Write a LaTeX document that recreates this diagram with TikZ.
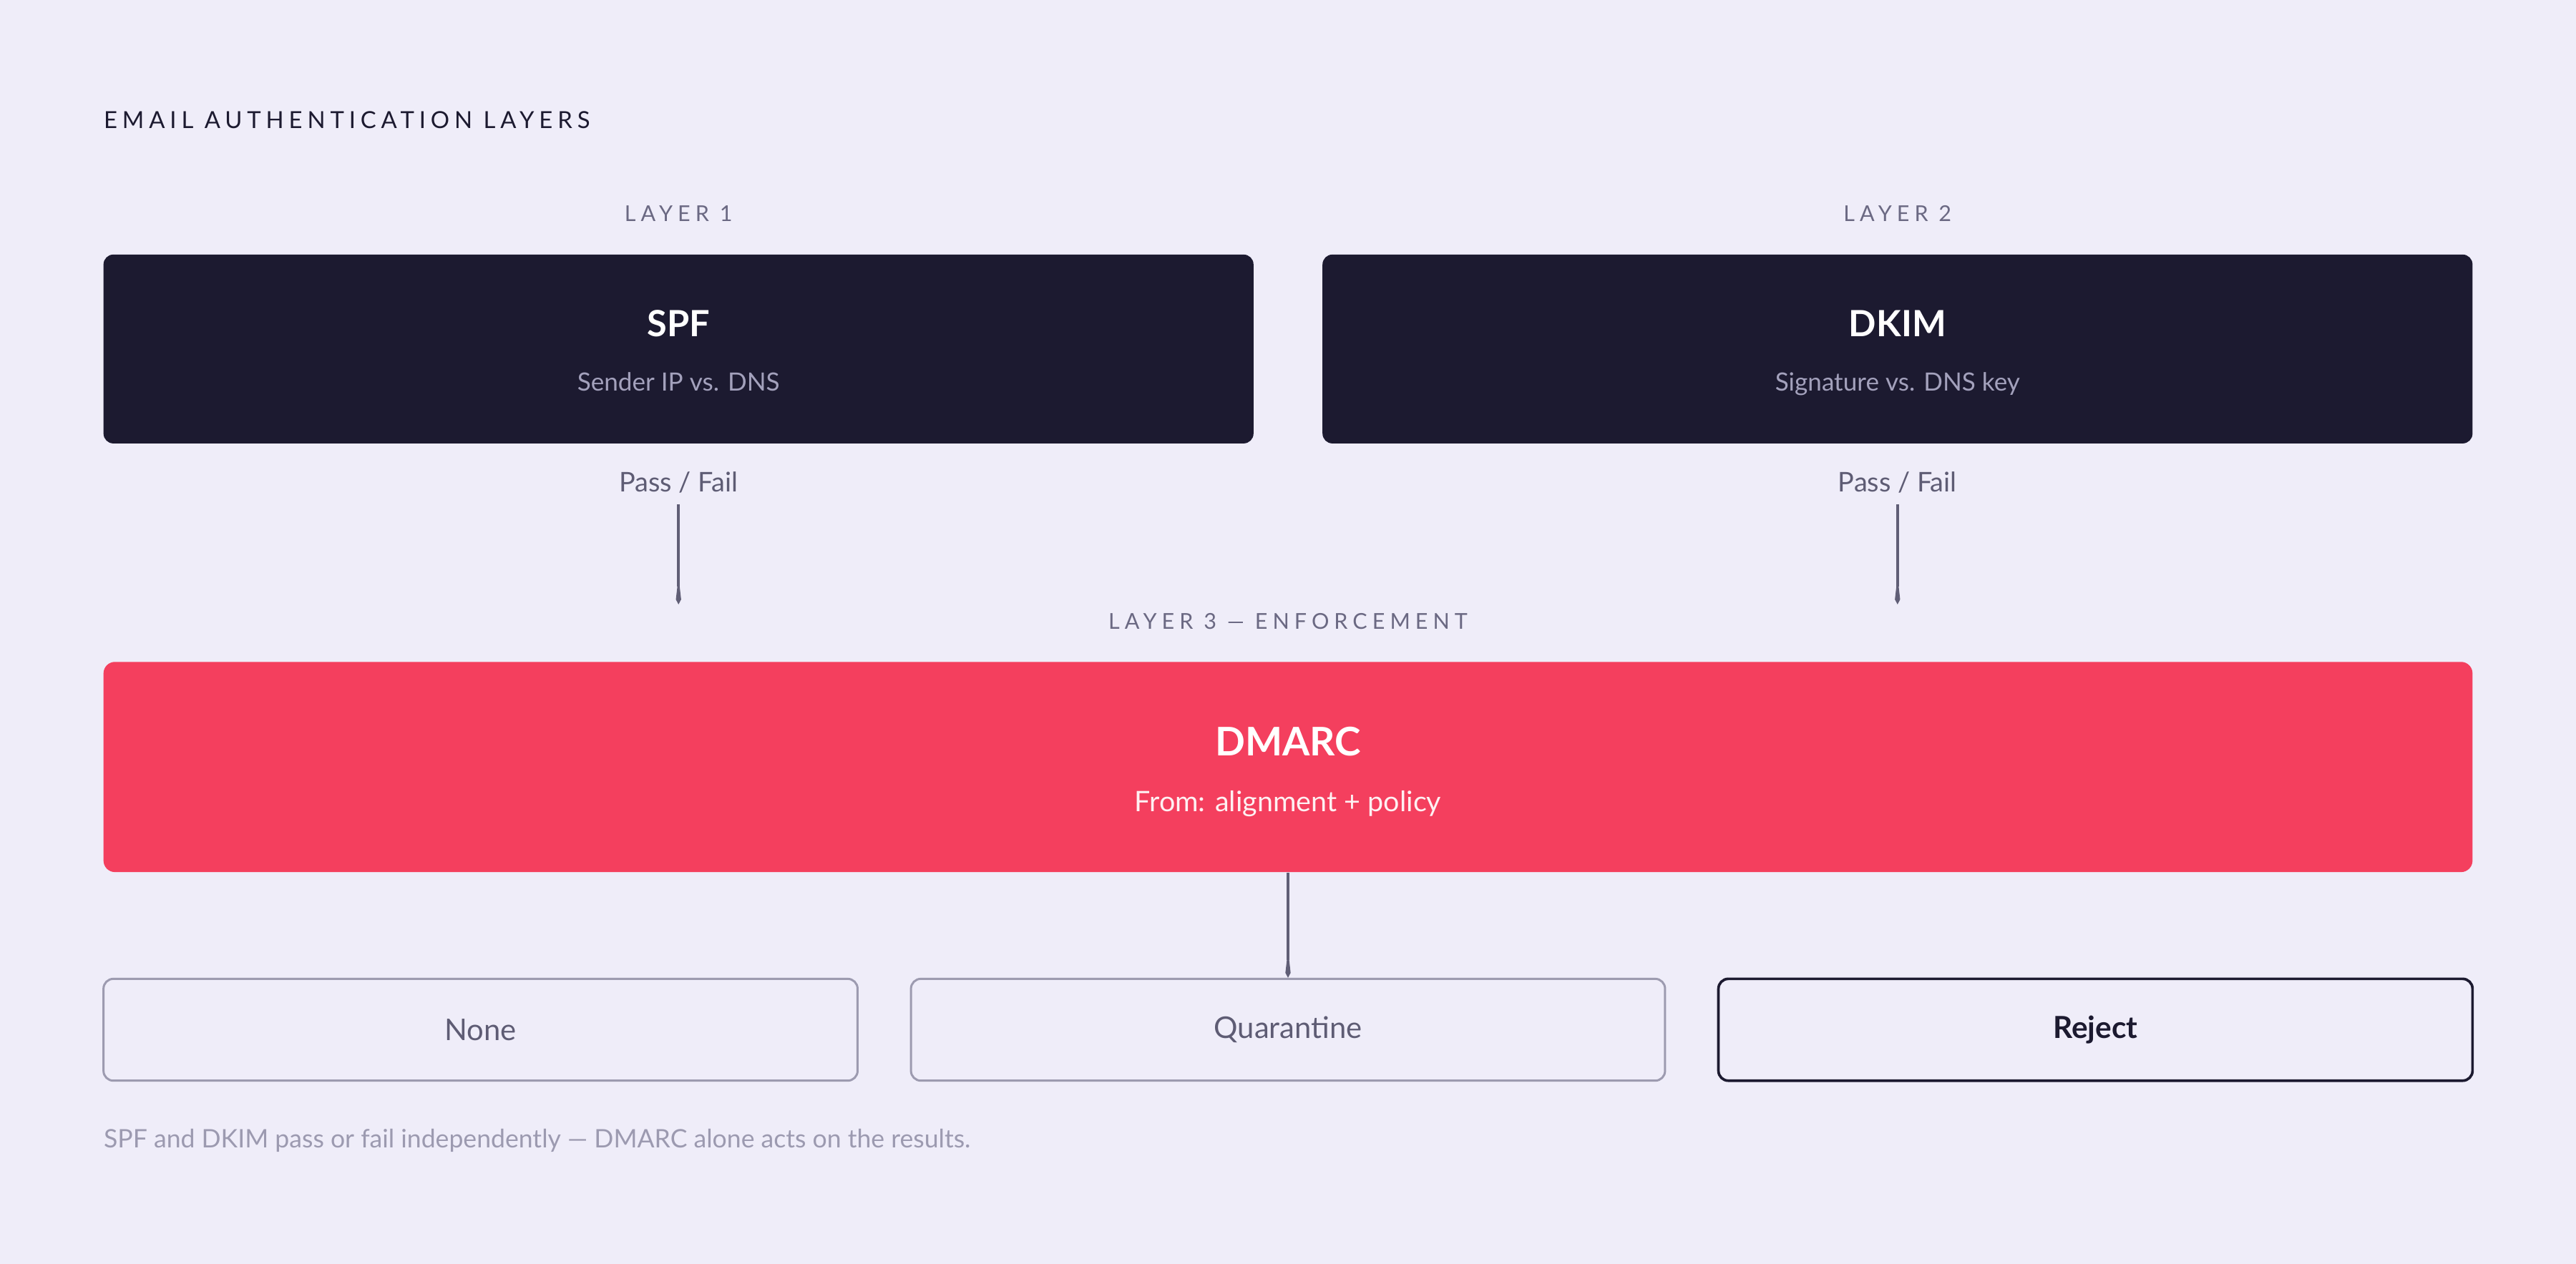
\documentclass[tikz,border=0pt]{standalone}
\usepackage{fontspec}
\setmainfont{Lato}
\newfontfamily\spaced[LetterSpace=21]{Lato}
\newfontfamily\spacedl[LetterSpace=23]{Lato}
\usetikzlibrary{arrows.meta}
\definecolor{bgc}{HTML}{EFEDF9}
\definecolor{ink}{HTML}{1C1A30}
\definecolor{redc}{HTML}{F43F5E}
\definecolor{subc}{HTML}{A3A1BC}
\definecolor{labc}{HTML}{6B6983}
\definecolor{passc}{HTML}{5E5C74}
\definecolor{footc}{HTML}{9C9AB0}
\definecolor{bordc}{HTML}{9D9BB0}
\definecolor{arrc}{HTML}{605E76}
\tikzset{
  darkbox/.style={draw=none, fill=ink, rounded corners=6pt, minimum width=700pt, minimum height=115pt, inner sep=0pt},
  redbox/.style={draw=none, fill=redc, rounded corners=7pt, minimum width=1442pt, minimum height=128pt, inner sep=0pt},
  optbox/.style={draw=bordc, line width=1.3pt, fill=bgc, rounded corners=6pt, minimum width=459pt, minimum height=62pt, inner sep=0pt, font=\fontsize{18.2}{21}\selectfont, text=passc},
  rejbox/.style={optbox, draw=ink, line width=1.6pt, text=ink, font=\fontsize{18.5}{21}\selectfont\bfseries},
  boxtitle/.style={text=white, font=\fontsize{22}{26}\selectfont\bfseries, inner sep=0pt},
  boxsub/.style={text=subc, font=\fontsize{15.3}{19}\selectfont, inner sep=0pt},
  layerlbl/.style={text=labc, font=\spacedl\fontsize{13.3}{15}\selectfont, inner sep=0pt},
  passlbl/.style={text=passc, font=\fontsize{16.5}{19}\selectfont, inner sep=0pt},
  arr/.style={draw=arrc, line width=1.6pt, -{Kite[length=17pt,width=3.2pt,inset=14pt]}},
}
\begin{document}
\begin{tikzpicture}[x=1pt,y=-1pt]
\fill[bgc] (0,0) rectangle (1568,769.6);
\useasboundingbox (0,0) rectangle (1568,769.6);

\node[anchor=base west, text=ink, font=\spaced\fontsize{14.3}{16}\selectfont, inner sep=0pt] (title) at (63,78) {EMAIL AUTHENTICATION LAYERS};

\node[layerlbl, anchor=base] (l1) at (413,135) {LAYER 1};
\node[layerlbl, anchor=base] (l2) at (1155,135) {LAYER 2};

\node[darkbox] (spf) at (413,212.5) {};
\node[boxtitle, anchor=base] (spft) at (413,205) {SPF};
\node[boxsub, anchor=base] (spfs) at (413,238) {Sender IP vs. DNS};

\node[darkbox] (dkim) at (1155,212.5) {};
\node[boxtitle, anchor=base] (dkimt) at (1155,205) {DKIM};
\node[boxsub, anchor=base] (dkims) at (1155,238) {Signature vs. DNS key};

\node[passlbl, anchor=base] (pf1) at (413,299.5) {Pass / Fail};
\node[passlbl, anchor=base] (pf2) at (1155,299.5) {Pass / Fail};
\coordinate (e1) at (413,368);
\coordinate (e2) at (1155,368);
\draw[arr] (413,307) -- (e1);
\draw[arr] (1155,307) -- (e2);

\node[layerlbl, anchor=base] (l3) at (784,383) {LAYER 3 — ENFORCEMENT};

\node[redbox] (dmarc) at (784,467) {};
\node[text=white, font=\fontsize{24}{28}\selectfont\bfseries, inner sep=0pt, anchor=base] (dmarct) at (784,460) {DMARC};
\node[text=white!92!redc, font=\fontsize{17.2}{20}\selectfont, inner sep=0pt, anchor=base] (dmarcs) at (784,494) {From: alignment + policy};

\node[optbox] (none) at (292.5,627) {None};
\node[optbox] (quar) at (784,627) {Quarantine};
\node[rejbox] (rej) at (1275.5,627) {Reject};

\draw[arr] (dmarc.south) -- (quar.north);

\node[anchor=base west, text=footc, font=\fontsize{15.5}{18}\selectfont, inner sep=0pt] (foot) at (63,699) {SPF and DKIM pass or fail independently — DMARC alone acts on the results.};
\end{tikzpicture}
\end{document}
